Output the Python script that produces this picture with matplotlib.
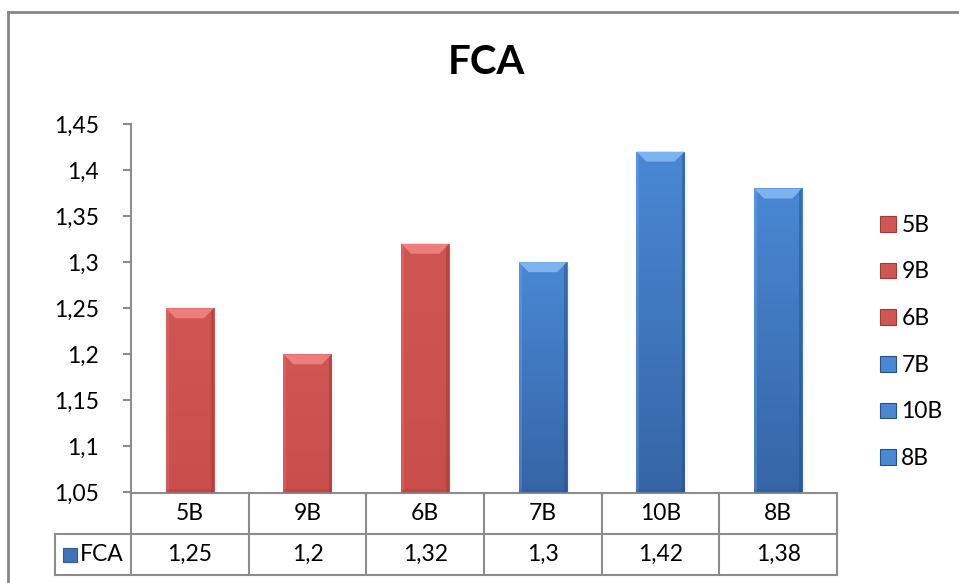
import matplotlib.pyplot as plt
from matplotlib.patches import Rectangle, Polygon
from matplotlib.lines import Line2D
from matplotlib.colors import LinearSegmentedColormap
import matplotlib.transforms as mtransforms
import numpy as np

plt.rcParams['font.family'] = ['Lato', 'DejaVu Sans']

categories = ['5B', '9B', '6B', '7B', '10B', '8B']
fca = [1.25, 1.2, 1.32, 1.3, 1.42, 1.38]
groups = ['red', 'red', 'red', 'blue', 'blue', 'blue']
series_name = 'FCA'
yticks = [1.05, 1.1, 1.15, 1.2, 1.25, 1.3, 1.35, 1.4, 1.45]

def comma(v):
    return f'{v:g}'.replace('.', ',')

# colours: (top, bottom, bevel light, side dark)
palette = {
    'red': ('#CF5653', '#C84F4C', '#EE7E7B', '#9E3B39'),
    'blue': ('#4A88D4', '#3565A6', '#7DB3F0', '#2A4F86'),
}
grid_col = '#8C8C8C'
fs = 16.5

fig = plt.figure(figsize=(9.59, 5.83), dpi=100)
W, H = 959, 583
ax = fig.add_axes([131 / W, 1 - 492.5 / H, 706 / W, 368.5 / H])
ymin, ymax = 1.05, 1.45
ax.set_xlim(-0.5, len(categories) - 0.5)
ax.set_ylim(ymin, ymax)

# px -> data scale
px_x = 706 / len(categories)
px_y = 368.5 / (ymax - ymin)

x = np.arange(len(categories))
bw = 0.41
bars = ax.bar(x, np.array(fca) - ymin, bottom=ymin, width=bw, color='none', zorder=2)
grad = np.linspace(0, 1, 256).reshape(-1, 1)
for xi, v, g, b in zip(x, fca, groups, bars):
    top_c, bot_c, bev_c, side_c = palette[g]
    cmap = LinearSegmentedColormap.from_list('g' + g, [bot_c, top_c])
    x0, x1 = xi - bw / 2, xi + bw / 2
    # soft shadow on the right
    ax.add_patch(Rectangle((x1, ymin), 3 / px_x, v - ymin - 4 / px_y,
                           facecolor='#000000', alpha=0.04, lw=0, zorder=1))
    im = ax.imshow(grad, extent=[x0, x1, ymin, v], origin='lower', cmap=cmap,
                   aspect='auto', zorder=2, interpolation='bilinear')
    im.set_clip_path(b)
    dx, dy = 10 / px_x, 10 / px_y
    ax.add_patch(Polygon([(x0, v), (x1, v), (x1 - dx, v - dy), (x0 + dx, v - dy)],
                         closed=True, facecolor=bev_c, lw=0, zorder=3))
    sx = 3 / px_x
    ax.add_patch(Polygon([(x1, v), (x1, ymin), (x1 - sx, ymin), (x1 - sx, v - sx * px_x / px_y)],
                         closed=True, facecolor=side_c, alpha=0.5, lw=0, zorder=3))
    ax.add_patch(Polygon([(x0, v), (x0, ymin), (x0 + sx, ymin), (x0 + sx, v - sx * px_x / px_y)],
                         closed=True, facecolor=bev_c, alpha=0.3, lw=0, zorder=3))
    ax.add_patch(Rectangle((x0, ymin), bw, 4 / px_y, facecolor=side_c, alpha=0.25,
                           lw=0, zorder=3))

ax.set_yticks(yticks)
ax.set_yticklabels([comma(t) for t in yticks], fontsize=fs)
ax.tick_params(axis='y', length=6, width=1.5, color=grid_col, pad=17)
ax.set_xticks([])
for s in ['top', 'right']:
    ax.spines[s].set_visible(False)
for s in ['left', 'bottom']:
    ax.spines[s].set_color(grid_col)
    ax.spines[s].set_linewidth(1.5)

# data table under the plot
blend = mtransforms.blended_transform_factory(ax.transData, fig.transFigure)
y_axis = 1 - 492.5 / H
y_mid = 1 - 534 / H
y_bot = 1 - 575 / H
xl = -0.5
for i in range(len(categories) + 1):
    fig.add_artist(Line2D([xl + i, xl + i], [y_axis, y_bot], transform=blend,
                          color=grid_col, lw=1.5))
left_fig = 55 / W
for yy in [y_mid, y_bot]:
    fig.add_artist(Line2D([left_fig, 837 / W], [yy, yy], transform=fig.transFigure,
                          color=grid_col, lw=1.5))
fig.add_artist(Line2D([left_fig, left_fig], [y_mid, y_bot], transform=fig.transFigure,
                      color=grid_col, lw=1.5))
for xi, c, v in zip(x, categories, fca):
    fig.text(xi, (y_axis + y_mid) / 2, c, transform=blend, ha='center', va='center', fontsize=fs)
    fig.text(xi, (y_mid + y_bot) / 2, comma(v), transform=blend, ha='center', va='center', fontsize=fs)
fig.add_artist(Rectangle((63 / W, (y_mid + y_bot) / 2 - 7 / H), 14 / W, 14 / H,
                         transform=fig.transFigure, facecolor='#3F74B8', edgecolor='#2F5A92', lw=0.8))
fig.text(80 / W, (y_mid + y_bot) / 2, series_name, ha='left', va='center', fontsize=fs)

# legend
handles = [Rectangle((0, 0), 1, 1, facecolor=palette[g][0], edgecolor=palette[g][3], lw=0.8)
           for g in groups]
fig.legend(handles, categories, loc='center left', bbox_to_anchor=(880 / W, 1 - 342 / H),
           frameon=False, fontsize=fs, handlelength=0.68, handleheight=0.68,
           handletextpad=0.25, labelspacing=1.12, borderpad=0, borderaxespad=0)

fig.text(486 / W, 1 - 62 / H, 'FCA', ha='center', va='center', fontsize=29, fontweight='bold')

# outer chart border
fig.add_artist(Line2D([8 / W, 1], [1 - 12 / H, 1 - 12 / H], transform=fig.transFigure,
                      color='#868686', lw=2))
fig.add_artist(Line2D([8 / W, 8 / W], [0, 1 - 12 / H], transform=fig.transFigure,
                      color='#868686', lw=2))

fig.savefig('out.png', dpi=100)
